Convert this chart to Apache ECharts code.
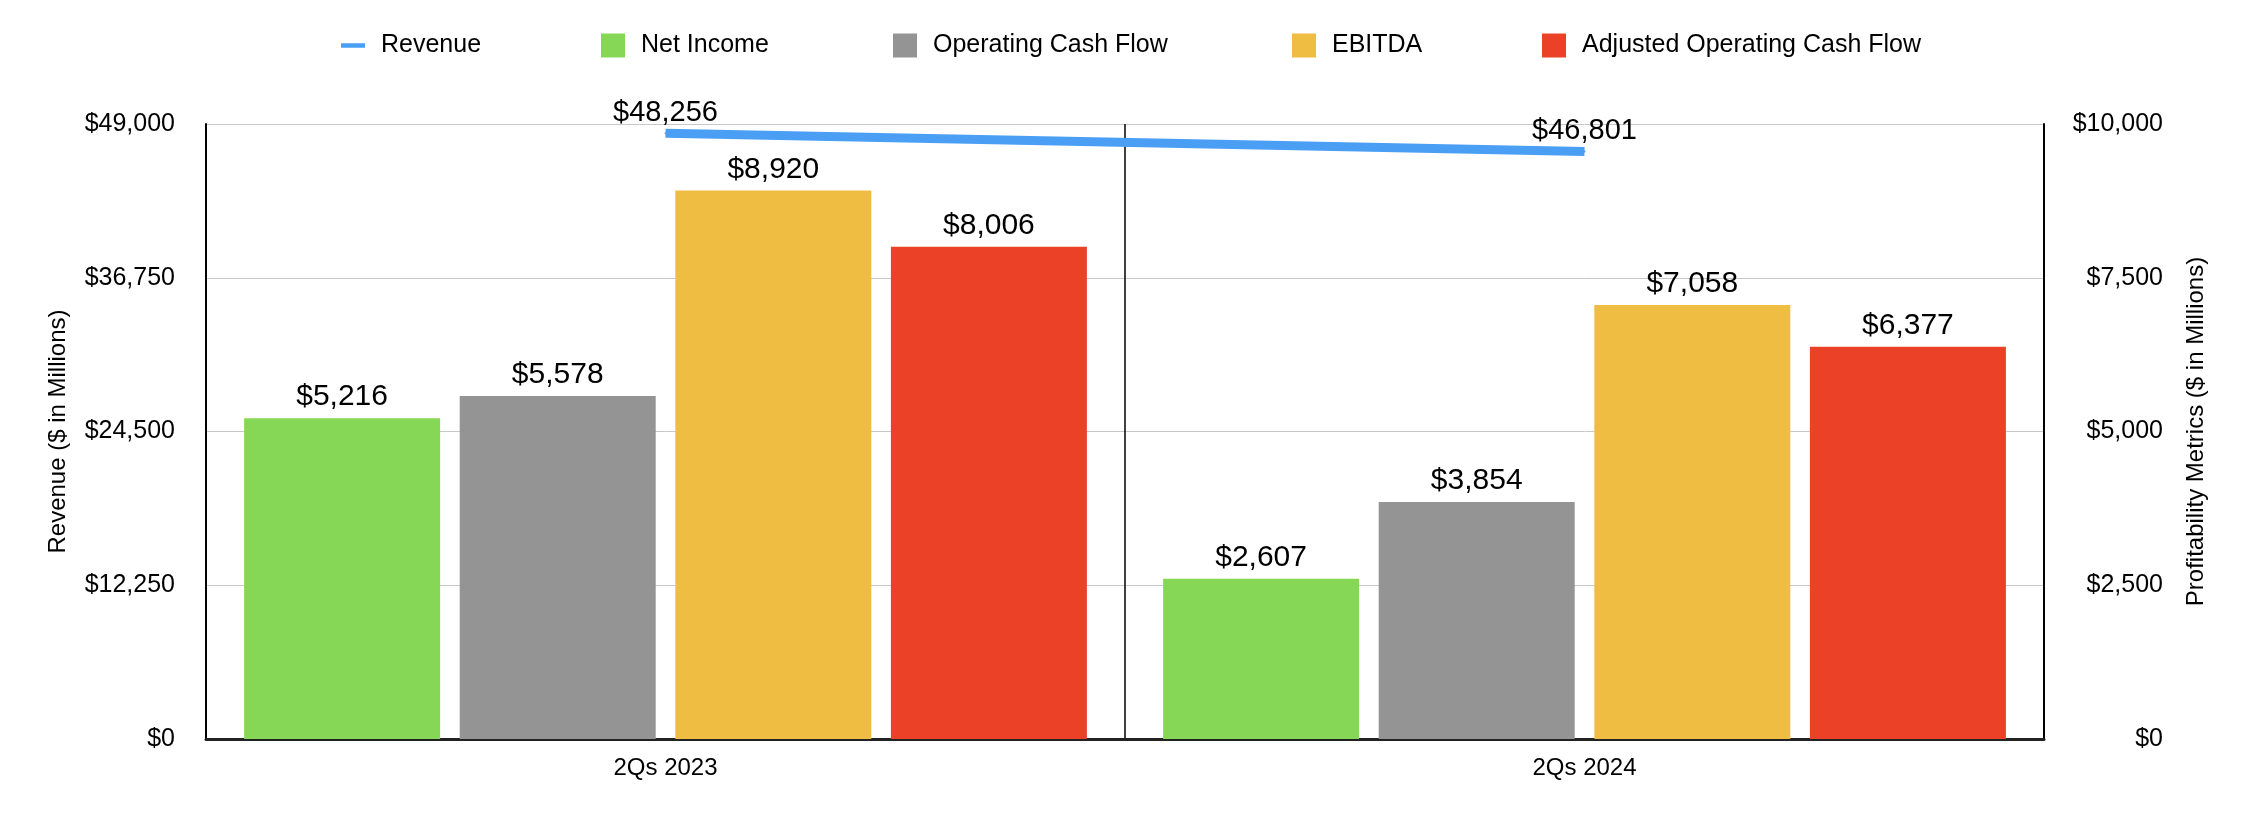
<!DOCTYPE html>
<html><head><meta charset="utf-8">
<script src="https://cdn.jsdelivr.net/npm/echarts@6/dist/echarts.min.js"></script>
<style>html,body{margin:0;padding:0;background:#fff}#c{width:2254px;height:824px}</style>
</head><body><div id="c"></div>
<script>
const categories = ['2Qs 2023', '2Qs 2024'];
const revenue = [48256, 46801];
const netIncome = [5216, 2607];
const operatingCashFlow = [5578, 3854];
const ebitda = [8920, 7058];
const adjustedOCF = [8006, 6377];
const leftTicks = [0, 12250, 24500, 36750, 49000];
const rightTicks = [0, 2500, 5000, 7500, 10000];
const seriesNames = ['Revenue', 'Net Income', 'Operating Cash Flow', 'EBITDA', 'Adjusted Operating Cash Flow'];

const FONT = '"Liberation Sans", Arial, Helvetica, sans-serif';
const fmt = v => '$' + Number(v).toLocaleString('en-US');
const barLabel = {show: true, position: 'top', distance: 6, color: '#000', fontSize: 30, fontFamily: FONT, formatter: p => fmt(p.value)};
function bar(name, data, color) {
  return {name, type: 'bar', yAxisIndex: 1, data, barWidth: 196, barGap: '10%', itemStyle: {color}, label: barLabel};
}
const legendX = [341, 601, 893, 1292, 1542];
const legends = seriesNames.map((n, i) => ({
  left: legendX[i],
  top: 33,
  padding: 0,
  itemWidth: 24,
  itemHeight: i === 0 ? 4.5 : 24,
  icon: 'rect',
  data: [n],
  textStyle: {fontSize: 25, color: '#000', fontFamily: FONT, padding: [0, 0, 0, 11]}
}));

const chart = echarts.init(document.getElementById('c'));
chart.setOption({
  animation: false,
  textStyle: {fontFamily: FONT},
  legend: legends,
  grid: {left: 206, right: 210, top: 124, bottom: 85},
  xAxis: {
    type: 'category', data: categories, boundaryGap: true,
    axisLine: {lineStyle: {color: '#222', width: 3}},
    axisTick: {show: false},
    splitLine: {show: true, lineStyle: {color: '#000', width: 1.5}},
    axisLabel: {fontSize: 24, color: '#000', margin: 17, fontFamily: FONT}
  },
  yAxis: [
    {
      type: 'value', min: leftTicks[0], max: leftTicks[leftTicks.length - 1], interval: leftTicks[1] - leftTicks[0],
      name: 'Revenue ($ in Millions)', nameLocation: 'middle', nameGap: 136, nameRotate: 90,
      nameTextStyle: {fontSize: 24, color: '#000', fontFamily: FONT},
      axisLine: {show: true, lineStyle: {color: '#000', width: 2}},
      axisTick: {show: false},
      splitLine: {lineStyle: {color: '#c8c8c8', width: 1}},
      axisLabel: {fontSize: 25, color: '#000', margin: 31, fontFamily: FONT, formatter: v => fmt(v)}
    },
    {
      type: 'value', min: rightTicks[0], max: rightTicks[rightTicks.length - 1], interval: rightTicks[1] - rightTicks[0],
      name: 'Profitability Metrics ($ in Millions)', nameLocation: 'middle', nameGap: 140, nameRotate: 90,
      nameTextStyle: {fontSize: 24, color: '#000', fontFamily: FONT},
      axisLine: {show: true, lineStyle: {color: '#000', width: 2}},
      axisTick: {show: false},
      splitLine: {show: false},
      axisLabel: {fontSize: 25, color: '#000', margin: 119, align: 'right', fontFamily: FONT, formatter: v => fmt(v)}
    }
  ],
  series: [
    {
      name: 'Revenue', type: 'line', yAxisIndex: 0, data: revenue, symbol: 'circle', symbolSize: 2, showSymbol: true,
      lineStyle: {color: '#4a9ff5', width: 9, cap: 'butt'}, itemStyle: {color: '#4a9ff5'}, z: 5,
      label: {show: true, position: 'top', distance: 5, color: '#000', fontSize: 29, fontFamily: FONT, formatter: p => fmt(p.value)}
    },
    bar('Net Income', netIncome, '#86d756'),
    bar('Operating Cash Flow', operatingCashFlow, '#949494'),
    bar('EBITDA', ebitda, '#efbd41'),
    bar('Adjusted Operating Cash Flow', adjustedOCF, '#eb4126')
  ]
});
</script></body></html>
